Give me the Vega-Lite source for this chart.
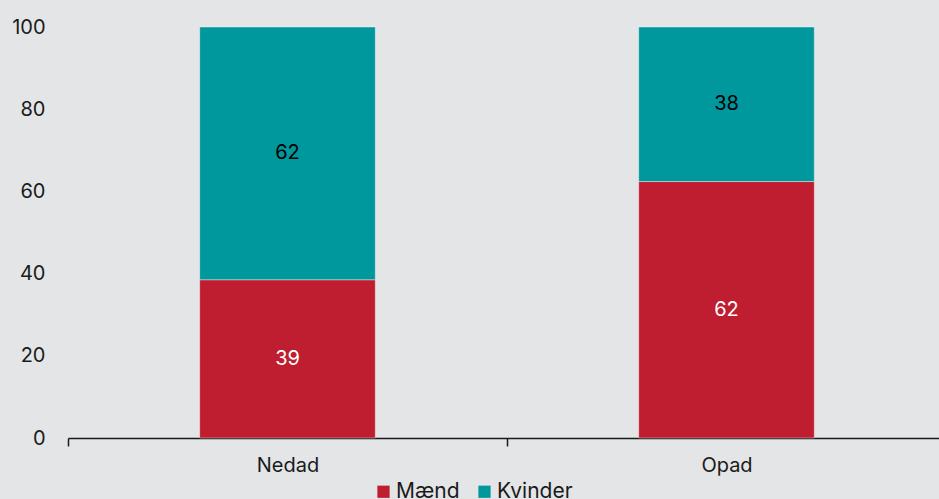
{
  "$schema": "https://vega.github.io/schema/vega-lite/v6.json",
  "width": 878,
  "height": 411,
  "autosize": {"type": "none"},
  "padding": {"left": 68, "top": 27, "right": 0, "bottom": 61},
  "background": "#e4e5e7",
  "config": {
    "view": {"stroke": null},
    "font": "Inter",
    "axis": {"labelFont": "Inter", "labelFontSize": 20, "labelColor": "#1a1a1a", "grid": false, "title": null},
    "legend": {"labelFont": "Inter", "labelFontSize": 21, "labelColor": "#1a1a1a"}
  },
  "data": {
    "values": [
      {"retning": "Nedad", "k": "Mænd", "v": 38.5},
      {"retning": "Nedad", "k": "Kvinder", "v": 61.5},
      {"retning": "Opad", "k": "Mænd", "v": 62.4},
      {"retning": "Opad", "k": "Kvinder", "v": 37.6}
    ]
  },
  "encoding": {
    "x": {
      "field": "retning", "type": "nominal",
      "scale": {"paddingInner": 0, "paddingOuter": 0},
      "axis": {"labelAngle": 0, "tickBand": "extent", "domainColor": "#1a1a1a", "domainWidth": 1.5, "tickColor": "#1a1a1a", "tickWidth": 1.5, "tickSize": 8, "labelPadding": 9}
    },
    "y": {
      "field": "v", "type": "quantitative", "stack": "zero",
      "scale": {"domain": [0, 100], "nice": false},
      "axis": {"values": [0, 20, 40, 60, 80, 100], "domain": false, "ticks": false, "labelPadding": 23}
    },
    "order": {"field": "k", "sort": "descending"}
  },
  "layer": [
    {
      "mark": {"type": "bar", "width": {"band": 0.4}, "stroke": "white", "strokeWidth": 0.8, "strokeOpacity": 0.5},
      "encoding": {
        "color": {
          "field": "k", "type": "nominal",
          "scale": {"domain": ["Mænd", "Kvinder"], "range": ["#be1e2f", "#00979d"]},
          "legend": {"title": null, "orient": "none", "direction": "horizontal", "legendX": 305, "legendY": 454, "symbolType": "square", "symbolSize": 150, "symbolStrokeWidth": 0, "columnPadding": 14, "labelOffset": 2}
        }
      }
    },
    {
      "mark": {"type": "text", "fontSize": 20, "font": "Inter"},
      "encoding": {
        "y": {"field": "v", "type": "quantitative", "stack": "zero", "bandPosition": 0.5},
        "text": {"field": "v", "type": "quantitative", "format": ".0f"},
        "color": {"condition": {"test": "datum.k === 'Mænd'", "value": "white"}, "value": "black"}
      }
    }
  ]
}
